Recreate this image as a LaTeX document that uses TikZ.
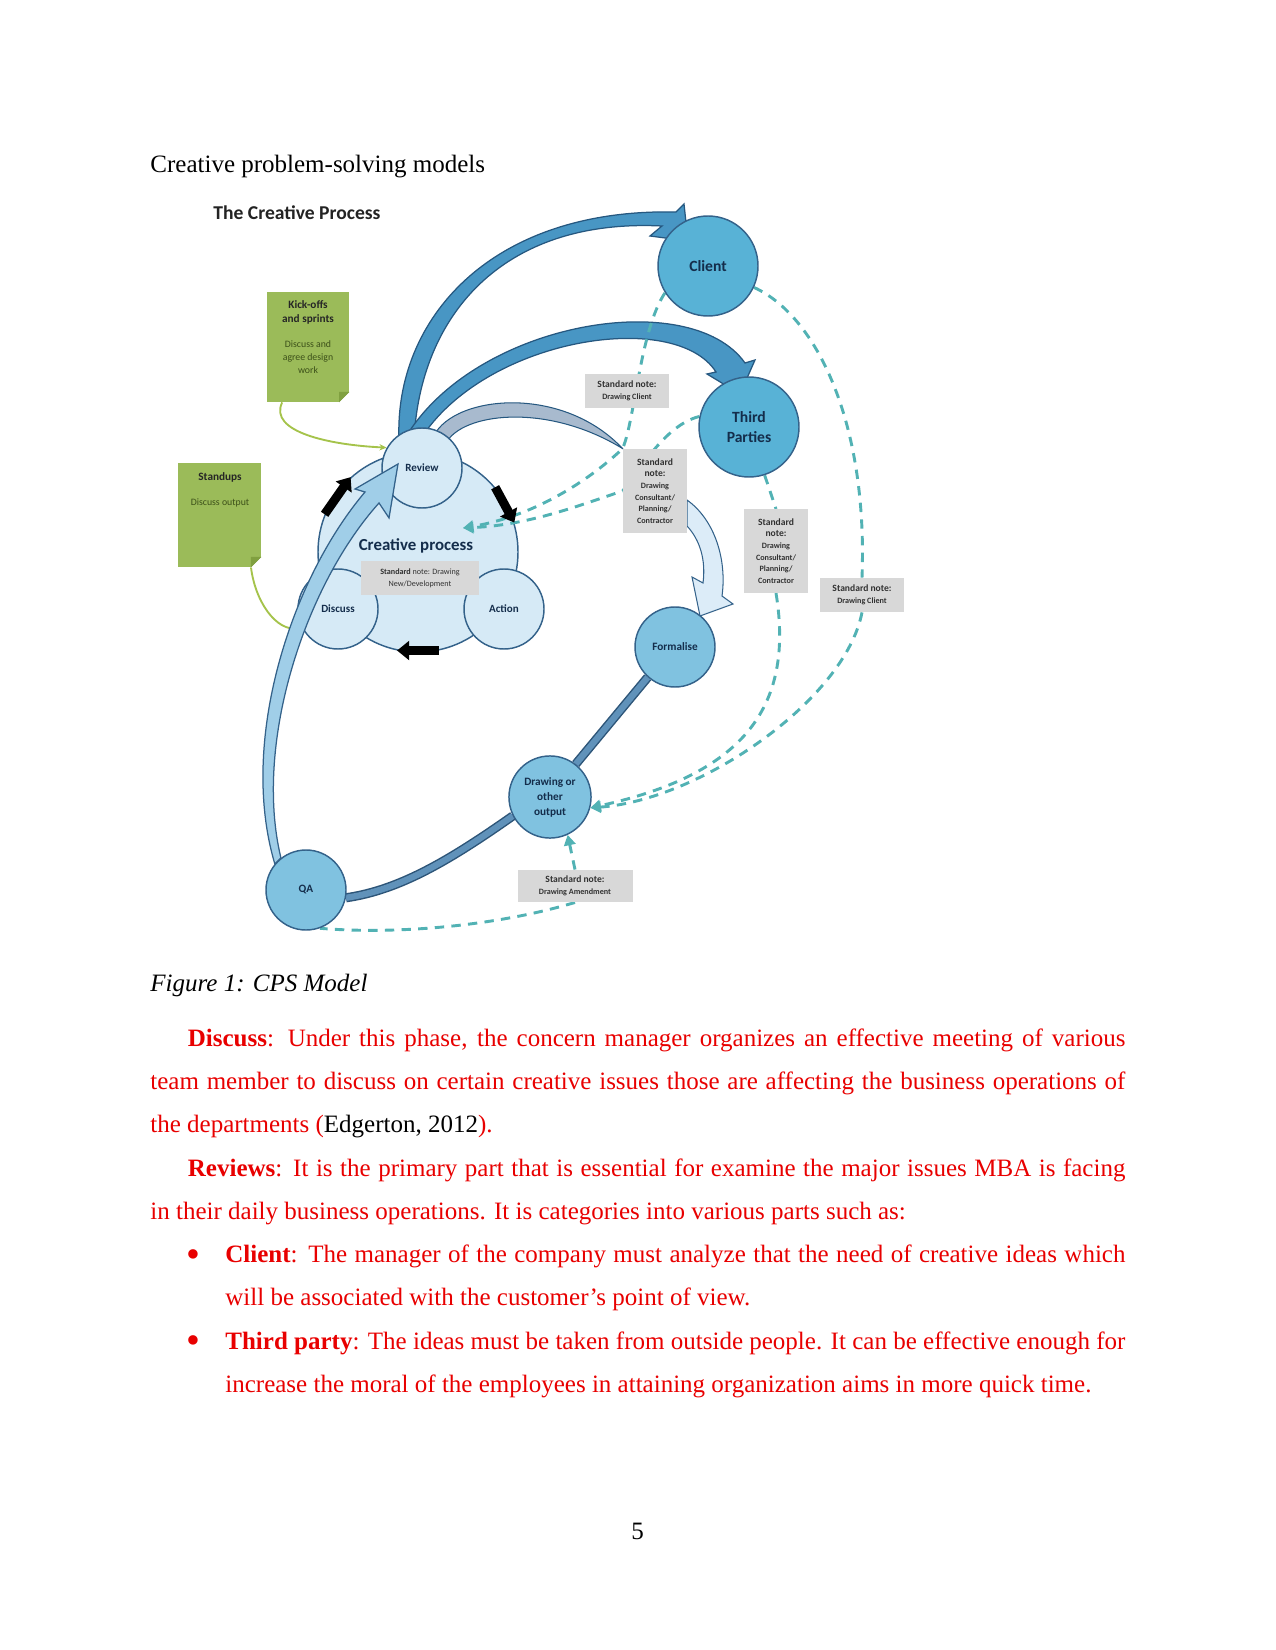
\documentclass[tikz,border=0pt]{standalone}
\usepackage{fontspec}
\setmainfont{Liberation Serif}
\newfontfamily\calibri{Carlito}
\usetikzlibrary{arrows.meta,positioning}
\definecolor{cpsred}{RGB}{232,0,0}
\definecolor{paleblue}{RGB}{214,234,246}
\definecolor{partyblue}{RGB}{88,178,214}
\definecolor{stageblue}{RGB}{128,194,224}
\definecolor{edgeblue}{RGB}{52,98,138}
\definecolor{navytext}{RGB}{20,45,75}
\definecolor{sweepblue}{RGB}{72,150,196}
\definecolor{sweepedge}{RGB}{38,88,128}
\definecolor{cpsslate}{RGB}{168,186,206}
\definecolor{liftblue}{RGB}{160,206,232}
\definecolor{formblue}{RGB}{220,236,248}
\definecolor{bandfill}{RGB}{96,146,186}
\definecolor{bandedge}{RGB}{45,85,120}
\definecolor{dashteal}{RGB}{82,178,180}
\definecolor{notegray}{RGB}{216,216,216}
\definecolor{notetext}{RGB}{50,50,50}
\definecolor{stickygreen}{RGB}{155,187,89}
\definecolor{stickydark}{RGB}{128,160,64}
\definecolor{stickyline}{RGB}{165,195,75}
\definecolor{stickyink}{RGB}{60,80,25}
\definecolor{titlegray}{RGB}{35,35,35}
\pgfdeclarelayer{back}
\pgfdeclarelayer{mid}
\pgfsetlayers{back,mid,main}
\newcommand\notesmall{\fontsize{3.9}{5.6}\selectfont}
\newcommand\listdot{\raisebox{-2.2pt}{\fontsize{19}{14}\selectfont •}}

\begin{document}
\begin{tikzpicture}[x=0.48pt, y=-0.48pt,
  bodyline/.style={anchor=base west, inner sep=0pt, font=\fontsize{12}{14}\selectfont, text=cpsred},
  cpcirc/.style={circle, draw=edgeblue, fill=paleblue, line width=0.7pt, minimum size=96pt, inner sep=0pt},
  phasecirc/.style={circle, draw=edgeblue, fill=paleblue, line width=0.7pt, minimum size=38.4pt, inner sep=0pt, font=\calibri\bfseries\fontsize{5.3}{6.4}\selectfont, text=navytext},
  partycirc/.style={circle, draw=edgeblue, fill=partyblue, line width=0.7pt, minimum size=48pt, inner sep=0pt, align=center, font=\calibri\bfseries\fontsize{7.5}{10}\selectfont, text=navytext},
  outputcirc/.style={circle, draw=edgeblue, fill=stageblue, line width=0.7pt, minimum size=38.4pt, inner sep=0pt, align=center, font=\calibri\bfseries\fontsize{5.4}{7.2}\selectfont, text=navytext},
  stdnote/.style={rectangle, fill=notegray, inner sep=0pt, align=center, font=\calibri\bfseries\fontsize{4.6}{5.6}\selectfont, text=notetext},
  sticky/.style={rectangle, fill=stickygreen, inner sep=0pt},
  stickyhead/.style={anchor=north, inner sep=0pt, align=center, font=\calibri\bfseries\fontsize{5.4}{6.9}\selectfont, text=black!85},
  stickybody/.style={anchor=north, inner sep=0pt, align=center, font=\calibri\fontsize{4.7}{6.4}\selectfont, text=stickyink},
  sweeparrow/.style={fill=sweepblue, draw=sweepedge, line width=0.6pt},
  liftarrow/.style={fill=liftblue, draw=edgeblue, line width=0.6pt},
  dashlink/.style={draw=dashteal, line width=1.4pt, dash pattern=on 4.5pt off 3.5pt},
  dasharr/.style={dashlink, -{Triangle[length=5pt,width=5.5pt]}},
  band/.style={draw=bandedge, line width=0.7pt, double=bandfill, double distance=3pt},
  cycarrow/.style={-{Triangle[length=5.8pt,width=9pt]}, line width=4.3pt, black},
  stickylink/.style={draw=stickyline, line width=0.9pt}
]
\useasboundingbox (0,0) rectangle (1275,1650);

% page heading and figure title
\node[bodyline, text=black] (pagehead) at (150,173) {Creative problem-solving models};
\node[anchor=base west, inner sep=0pt, font=\calibri\bfseries\fontsize{9.4}{11}\selectfont, text=titlegray] (cpstitle) at (213,220) {The Creative Process};

% creative process cluster
\begin{pgfonlayer}{back}
  \node[cpcirc] (cp) at (418,552) {};
\end{pgfonlayer}
\node[phasecirc] (review) at (422,468) {Review};
\node[phasecirc] (discuss) at (338,609) {Discuss};
\node[phasecirc] (action) at (504,609) {Action};
\node[inner sep=0pt, font=\calibri\bfseries\fontsize{8.1}{9}\selectfont, text=navytext] (cplabel) at (416,546) {Creative process};
\node[stdnote, minimum width=57pt, minimum height=16pt] (cpnote) at (420,578)
  {\notesmall Standard \mdseries note: Drawing\\\notesmall\mdseries New/Development};

% outer stages
\node[partycirc] (client) at (708,266) {Client};
\node[partycirc] (tp) at (749,427) {Third\\Parties};
\node[outputcirc] (formalise) at (675,647) {Formalise};
\node[outputcirc, minimum size=39.4pt] (drawing) at (550,797) {Drawing or\\other\\output};
\node[outputcirc] (qa) at (306,890) {QA};

% standard notes
\node[stdnote, minimum width=40pt, minimum height=16pt] (noteA) at (627,391) {Standard note:\\{\notesmall Drawing Client}};
\node[stdnote, minimum width=30.7pt, minimum height=40.3pt] (noteB) at (655,491)
  {Standard\\note:\\{\notesmall Drawing}\\{\notesmall Consultant/}\\{\notesmall Planning/}\\{\notesmall Contractor}};
\node[stdnote, minimum width=30.7pt, minimum height=40pt] (noteC) at (776,551)
  {Standard\\note:\\{\notesmall Drawing}\\{\notesmall Consultant/}\\{\notesmall Planning/}\\{\notesmall Contractor}};
\node[stdnote, minimum width=40.3pt, minimum height=16.3pt] (noteD) at (862,595) {Standard note:\\{\notesmall Drawing Client}};
\node[stdnote, minimum width=55.2pt, minimum height=15.4pt] (noteE) at (575,886) {Standard note:\\{\notesmall Drawing Amendment}};

% sticky notes
\node[sticky, minimum width=39.4pt, minimum height=52.8pt] (kick) at (308,347) {};
\fill[white] ([xshift=-5pt]kick.south east) -- (kick.south east) -- ([yshift=5pt]kick.south east) -- cycle;
\fill[stickydark] ([xshift=-5pt]kick.south east) -- ([yshift=5pt]kick.south east) -- ([xshift=-5pt,yshift=5pt]kick.south east) -- cycle;
\node[stickyhead] (kickhead) at (308,300) {Kick-offs\\and sprints};
\node[stickybody] (kickbody) at (308,340) {Discuss and\\agree design\\work};
\node[sticky, minimum width=39.8pt, minimum height=49.9pt] (stand) at (219.5,515) {};
\fill[white] ([xshift=-5pt]stand.south east) -- (stand.south east) -- ([yshift=5pt]stand.south east) -- cycle;
\fill[stickydark] ([xshift=-5pt]stand.south east) -- ([yshift=5pt]stand.south east) -- ([xshift=-5pt,yshift=5pt]stand.south east) -- cycle;
\node[stickyhead] (standhead) at (220,472) {Standups};
\node[stickybody] (standbody) at (220,498) {Discuss output};

\begin{pgfonlayer}{mid}
  % Review out to Client and Third Parties
  \draw[sweeparrow] (399,440) .. controls (394,320) and (490,208) .. (676,212)
    -- (684,204) -- (688,241) -- (650,236) -- (662,226)
    .. controls (500,218) and (420,318) .. (414,440) -- cycle;
  \draw[sweeparrow] (404,440) .. controls (472,322) and (690,285) .. (745,363)
    -- (755,360) -- (740,394) -- (707,374) -- (716,372)
    .. controls (675,308) and (484,338) .. (420,440) -- cycle;
  \draw[fill=cpsslate, draw=sweepedge, line width=0.5pt] (432,440) .. controls (447,396) and (560,382) .. (noteB.north west)
    .. controls (550,404) and (468,412) .. (448,440) -- cycle;
  \draw[fill=formblue, draw=edgeblue, line width=0.5pt] (687,500) .. controls (715,520) and (727,560) .. (722,596)
    -- (733,604) -- (700,616) -- (692,577) -- (703,583) .. controls (706,560) and (700,540) .. (687,526) -- cycle;

  % output chain
  \draw[band] (formalise.228) -- (drawing.52);
  \draw[band] (drawing.207) .. controls (450,860) and (400,890) .. (qa.349);

  % standard note links
  \coordinate (cpin) at (463,528);
  \draw[dasharr] (client.212) .. controls (640,330) and (635,420) .. (noteB.north west)
    .. controls (595,475) and (540,515) .. (cpin);
  \draw[dasharr] (tp.168) .. controls (665,425) and (640,470) .. (noteB.west)
    .. controls (580,505) and (530,525) .. (cpin);
  \draw[dashlink] (client.335) .. controls (815,315) and (868,420) .. (noteD.north);
  \draw[dasharr] (noteD.south) .. controls (845,700) and (700,800) .. (drawing.345);
  \draw[dashlink] (tp.288) -- (noteC.north);
  \draw[dasharr] (noteC.south) .. controls (795,710) and (740,775) .. (drawing.345);
  \draw[dasharr] (noteE.north) -- (drawing.295);
  \draw[dashlink] (noteE.south) .. controls (500,925) and (400,935) .. (qa.290);

  % sticky note links
  \draw[stickylink, -{Stealth[length=3.5pt,width=3pt]}] (kick.245) .. controls (268,432) and (330,445) .. (review.150);
  \draw[stickylink, -{Circle[length=2pt]}] (stand.301) .. controls (255,600) and (275,632) .. (discuss.208);
\end{pgfonlayer}

% QA back up to Review
\draw[liftarrow] (qa.140) .. controls (238,740) and (292,578) .. (365,492) -- (355,489) -- (398,464)
  -- (389,518) -- (379,503) .. controls (306,584) and (253,742) .. (qa.128) -- cycle;

% cycle arrows
\draw[cycarrow] (cp.158) -- (cp.132);
\draw[cycarrow] (cp.40) -- (cp.17);
\draw[cycarrow] (cp.282) -- (cp.258);

% caption and text
\node[bodyline, text=black, font=\fontsize{12}{14}\selectfont\itshape] (caption) at (150,991) {Figure 1: CPS Model};
\node[bodyline] (p1a) at (187.5,1046) {\makebox[450pt][s]{\textbf{Discuss}: Under this phase, the concern manager organizes an effective meeting of various}};
\node[bodyline] (p1b) at (150,1089.3) {\makebox[468pt][s]{team member to discuss on certain creative issues those are affecting the business operations of}};
\node[bodyline] (p1c) at (150,1132.6) {the departments (\textcolor{black}{Edgerton, 2012}).};
\node[bodyline] (p2a) at (187.5,1176) {\makebox[450pt][s]{\textbf{Reviews}: It is the primary part that is essential for examine the major issues MBA is facing}};
\node[bodyline] (p2b) at (150,1219.3) {in their daily business operations. It is categories into various parts such as:};
\node[bodyline] (dot1) at (186,1262.6) {\listdot};
\node[bodyline] (b1a) at (225,1262.6) {\makebox[432pt][s]{\textbf{Client}: The manager of the company must analyze that the need of creative ideas which}};
\node[bodyline] (b1b) at (225,1305.9) {will be associated with the customer’s point of view.};
\node[bodyline] (dot2) at (186,1349.2) {\listdot};
\node[bodyline] (b2a) at (225,1349.2) {\makebox[432pt][s]{\textbf{Third party}: The ideas must be taken from outside people. It can be effective enough for}};
\node[bodyline] (b2b) at (225,1392.5) {increase the moral of the employees in attaining organization aims in more quick time.};
\node[inner sep=0pt, anchor=base, font=\fontsize{12}{14}\selectfont] (pagenum) at (637.5,1539) {5};
\end{tikzpicture}
\end{document}
